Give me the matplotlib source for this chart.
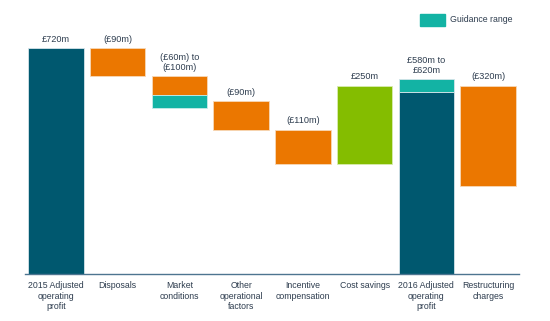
import matplotlib.pyplot as plt
from matplotlib.patches import Rectangle

plt.rcParams['font.family'] = ['Liberation Sans', 'DejaVu Sans']

categories = ['2015 Adjusted\noperating\nprofit', 'Disposals', 'Market\nconditions',
              'Other\noperational\nfactors', 'Incentive\ncompensation', 'Cost savings',
              '2016 Adjusted\noperating\nprofit', 'Restructuring\ncharges']
# low / high change for each step (equal when there is no range)
change_low = [720, -90, -60, -90, -110, 250, 580, -320]
change_high = [720, -90, -100, -90, -110, 250, 620, -320]
kinds = ['total', 'step', 'step', 'step', 'step', 'step', 'total', 'step']
value_labels = ['£720m', '(£90m)', '(£60m) to\n(£100m)', '(£90m)', '(£110m)',
                '£250m', '£580m to\n£620m', '(£320m)']

DARK = '#00586f'
ORANGE = '#eb7700'
TEAL = '#13b3a4'
GREEN = '#84bd00'
TXT = '#2e3d4f'

fig = plt.figure(figsize=(5.5, 3.21), dpi=100)
ax = fig.add_axes([25/550, 47/321, 494/550, 251.2/321])

level = 0
tops = []
for i, (lo, hi, kind) in enumerate(zip(change_low, change_high, kinds)):
    if kind == 'total':
        ax.bar(i, lo, width=0.9, bottom=0, color=DARK, edgecolor='#d6e4ea', lw=0.6)
        if hi != lo:
            ax.bar(i, hi - lo, width=0.9, bottom=lo, color=TEAL, edgecolor='#d6e4ea', lw=0.6)
        level = (lo + hi) / 2
        tops.append(max(lo, hi))
    else:
        start = level
        if lo >= 0:
            ax.bar(i, lo, width=0.9, bottom=start, color=GREEN, edgecolor='#d8ecb0', lw=0.6)
        else:
            ax.bar(i, lo, width=0.9, bottom=start, color=ORANGE, edgecolor='#f7d8b8', lw=0.6)
            if hi != lo:
                ax.bar(i, hi - lo, width=0.9, bottom=start + lo, color=TEAL, edgecolor='#c8ecea', lw=0.6)
        tops.append(max(start, start + lo, start + hi))
        level = start + (lo + hi) / 2

for i, (t, lab) in enumerate(zip(tops, value_labels)):
    ax.annotate(lab, (i, t), xytext=(0, 3), textcoords='offset points',
                ha='center', va='bottom', fontsize=6.6, color=TXT, linespacing=1.2)

ax.set_xlim(-0.5, 7.5)
ax.set_ylim(0, 800)
ax.set_xticks(range(len(categories)))
ax.set_xticklabels(categories, fontsize=6.3, color=TXT, linespacing=1.25)
ax.tick_params(axis='x', length=0, pad=5)
ax.set_yticks([])
for s in ['top', 'right', 'left']:
    ax.spines[s].set_visible(False)
ax.spines['bottom'].set_color('#4d7590')
ax.spines['bottom'].set_linewidth(1)

# legend
fig.patches.append(Rectangle((420/550, 1 - 26/321), 25/550, 12/321,
                             transform=fig.transFigure, color=TEAL))
fig.text(450/550, 1 - 20/321, 'Guidance range', fontsize=6.3, color=TXT, va='center')

fig.savefig('out.png', dpi=100)
